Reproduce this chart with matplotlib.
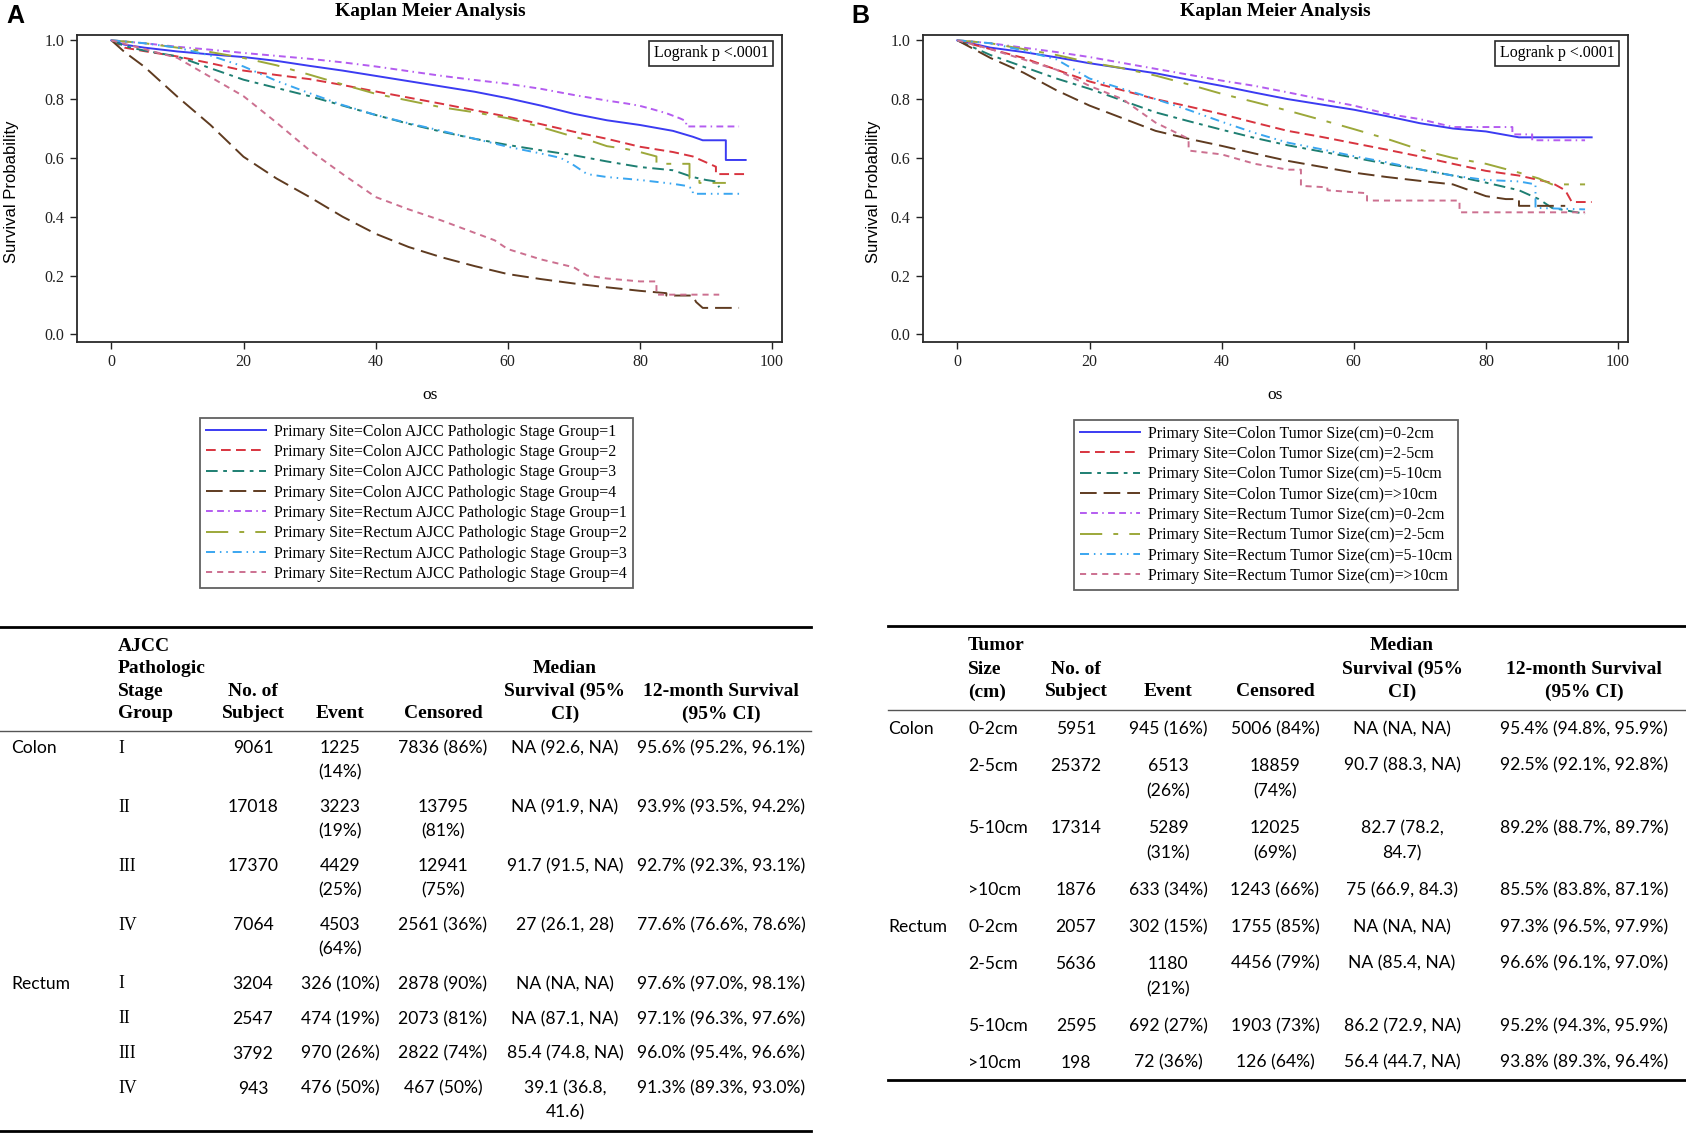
import matplotlib
matplotlib.use("Agg")
import matplotlib.pyplot as plt
from matplotlib.lines import Line2D

plt.rcParams['lines.scale_dashes'] = False

W, H = 1686, 1134
SERIF = 'Liberation Serif'
SANS = 'Liberation Sans'
BODY = 'Lato'

# ---------------- data: panel A (AJCC stage) ----------------
A_labels = ["Primary Site=Colon AJCC Pathologic Stage Group=1",
            "Primary Site=Colon AJCC Pathologic Stage Group=2",
            "Primary Site=Colon AJCC Pathologic Stage Group=3",
            "Primary Site=Colon AJCC Pathologic Stage Group=4",
            "Primary Site=Rectum AJCC Pathologic Stage Group=1",
            "Primary Site=Rectum AJCC Pathologic Stage Group=2",
            "Primary Site=Rectum AJCC Pathologic Stage Group=3",
            "Primary Site=Rectum AJCC Pathologic Stage Group=4"]

A_t_c1 = [0, 2, 5, 10, 15, 20, 25, 30, 35, 40, 45, 50, 55, 60, 65, 70, 75, 80, 85, 88, 89.5, 93, 93, 96]
A_s_c1 = [1.0, 0.985, 0.975, 0.962, 0.952, 0.943, 0.93, 0.913, 0.897, 0.879, 0.861, 0.843, 0.825, 0.803, 0.778, 0.750, 0.728, 0.712, 0.692, 0.672, 0.660, 0.660, 0.593, 0.593]
A_t_c2 = [0, 2, 5, 10, 15, 20, 25, 30, 35, 40, 45, 50, 55, 60, 65, 70, 75, 80, 85, 88, 90, 91.5, 91.5, 96]
A_s_c2 = [1.0, 0.975, 0.963, 0.945, 0.922, 0.897, 0.882, 0.868, 0.848, 0.826, 0.805, 0.784, 0.762, 0.740, 0.715, 0.689, 0.665, 0.638, 0.620, 0.605, 0.585, 0.570, 0.545, 0.545]
A_t_c3 = [0, 2, 5, 10, 15, 20, 25, 30, 35, 40, 45, 50, 55, 60, 65, 70, 75, 80, 85, 88, 90, 91.5, 92]
A_s_c3 = [1.0, 0.98, 0.965, 0.945, 0.905, 0.866, 0.838, 0.81, 0.778, 0.746, 0.716, 0.689, 0.665, 0.644, 0.626, 0.609, 0.588, 0.569, 0.558, 0.535, 0.525, 0.52, 0.50]
A_t_c4 = [0, 2, 5, 10, 15, 20, 25, 30, 35, 40, 45, 50, 55, 60, 65, 70, 75, 80, 84, 84, 88, 88.5, 89.5, 95]
A_s_c4 = [1.0, 0.96, 0.91, 0.808, 0.712, 0.604, 0.53, 0.467, 0.40, 0.342, 0.297, 0.262, 0.232, 0.205, 0.188, 0.173, 0.160, 0.148, 0.14, 0.132, 0.132, 0.11, 0.09, 0.09]
A_t_r1 = [0, 5, 10, 15, 20, 25, 30, 35, 40, 45, 50, 55, 60, 65, 70, 75, 78, 80, 82, 84, 86, 87, 87, 95]
A_s_r1 = [1.0, 0.99, 0.978, 0.968, 0.957, 0.947, 0.937, 0.925, 0.911, 0.895, 0.879, 0.865, 0.852, 0.835, 0.814, 0.795, 0.785, 0.777, 0.765, 0.752, 0.735, 0.725, 0.707, 0.707]
A_t_r2 = [0, 5, 10, 15, 20, 25, 30, 35, 40, 45, 50, 55, 60, 65, 70, 73, 75, 78, 80, 82.5, 82.5, 87.5, 87.5, 89, 89, 93]
A_s_r2 = [1.0, 0.99, 0.975, 0.96, 0.94, 0.915, 0.883, 0.85, 0.818, 0.795, 0.772, 0.755, 0.735, 0.705, 0.672, 0.655, 0.64, 0.63, 0.62, 0.605, 0.58, 0.58, 0.53, 0.53, 0.515, 0.515]
A_t_r3 = [0, 5, 10, 15, 20, 25, 30, 35, 40, 45, 50, 55, 60, 65, 68, 70, 72, 75, 80, 85, 87, 88, 88, 95]
A_s_r3 = [1.0, 0.99, 0.975, 0.948, 0.911, 0.862, 0.82, 0.78, 0.746, 0.718, 0.692, 0.665, 0.638, 0.615, 0.60, 0.575, 0.545, 0.535, 0.525, 0.512, 0.505, 0.495, 0.478, 0.478]
A_t_r4 = [0, 5, 10, 15, 20, 25, 30, 35, 40, 45, 50, 55, 58, 60, 65, 70, 72, 75, 80, 82.5, 82.5, 92]
A_s_r4 = [1.0, 0.97, 0.94, 0.875, 0.81, 0.72, 0.626, 0.545, 0.467, 0.425, 0.387, 0.345, 0.32, 0.29, 0.255, 0.228, 0.20, 0.19, 0.18, 0.18, 0.135, 0.135]

# ---------------- data: panel B (tumor size) ----------------
B_labels = ["Primary Site=Colon Tumor Size(cm)=0-2cm",
            "Primary Site=Colon Tumor Size(cm)=2-5cm",
            "Primary Site=Colon Tumor Size(cm)=5-10cm",
            "Primary Site=Colon Tumor Size(cm)=>10cm",
            "Primary Site=Rectum Tumor Size(cm)=0-2cm",
            "Primary Site=Rectum Tumor Size(cm)=2-5cm",
            "Primary Site=Rectum Tumor Size(cm)=5-10cm",
            "Primary Site=Rectum Tumor Size(cm)=>10cm"]

B_t_c1 = [0, 5, 10, 15, 20, 25, 30, 35, 40, 45, 50, 55, 60, 65, 70, 75, 80, 85, 96]
B_s_c1 = [1.0, 0.975, 0.96, 0.942, 0.922, 0.905, 0.888, 0.866, 0.845, 0.822, 0.80, 0.782, 0.764, 0.742, 0.718, 0.700, 0.690, 0.670, 0.670]
B_t_c2 = [0, 5, 10, 15, 20, 25, 30, 35, 40, 45, 50, 55, 60, 65, 70, 75, 80, 85, 90, 92, 93, 96]
B_s_c2 = [1.0, 0.97, 0.94, 0.90, 0.86, 0.83, 0.80, 0.775, 0.749, 0.72, 0.692, 0.672, 0.65, 0.628, 0.605, 0.58, 0.556, 0.54, 0.515, 0.49, 0.45, 0.45]
B_t_c3 = [0, 5, 10, 15, 20, 25, 30, 35, 40, 45, 50, 55, 60, 65, 70, 75, 80, 85, 88, 90, 95]
B_s_c3 = [1.0, 0.95, 0.91, 0.87, 0.835, 0.795, 0.755, 0.725, 0.696, 0.668, 0.643, 0.622, 0.601, 0.58, 0.561, 0.54, 0.516, 0.49, 0.46, 0.43, 0.41]
B_t_c4 = [0, 5, 10, 15, 20, 25, 30, 35, 40, 45, 50, 55, 60, 65, 70, 75, 80, 83, 85, 85, 92]
B_s_c4 = [1.0, 0.94, 0.89, 0.83, 0.778, 0.735, 0.692, 0.665, 0.641, 0.615, 0.59, 0.57, 0.55, 0.535, 0.522, 0.51, 0.47, 0.46, 0.46, 0.437, 0.437]
B_t_r1 = [0, 5, 10, 15, 20, 25, 30, 35, 40, 45, 50, 55, 60, 65, 70, 75, 83, 84, 84, 87, 87, 95]
B_s_r1 = [1.0, 0.99, 0.975, 0.96, 0.943, 0.923, 0.903, 0.883, 0.863, 0.845, 0.823, 0.80, 0.778, 0.75, 0.732, 0.705, 0.705, 0.705, 0.68, 0.68, 0.66, 0.66]
B_t_r2 = [0, 5, 10, 15, 20, 25, 30, 35, 40, 45, 50, 55, 60, 65, 70, 75, 80, 85, 88, 90, 95]
B_s_r2 = [1.0, 0.99, 0.97, 0.95, 0.925, 0.905, 0.88, 0.85, 0.818, 0.79, 0.761, 0.73, 0.698, 0.665, 0.628, 0.60, 0.58, 0.55, 0.53, 0.51, 0.51]
B_t_r3 = [0, 5, 10, 15, 20, 25, 30, 35, 40, 45, 50, 55, 60, 65, 70, 75, 80, 85, 87.5, 87.5, 95]
B_s_r3 = [1.0, 0.99, 0.965, 0.935, 0.87, 0.835, 0.80, 0.763, 0.723, 0.685, 0.652, 0.63, 0.606, 0.585, 0.561, 0.54, 0.525, 0.52, 0.51, 0.43, 0.425]
B_t_r4 = [0, 5, 10, 15, 20, 25, 30, 35, 35, 40, 45, 50, 52, 52, 56, 56, 62, 62, 76, 76, 95]
B_s_r4 = [1.0, 0.97, 0.935, 0.90, 0.845, 0.80, 0.72, 0.665, 0.625, 0.612, 0.58, 0.56, 0.56, 0.505, 0.50, 0.49, 0.48, 0.455, 0.455, 0.415, 0.415]

# ---------------- data: tables ----------------
tA_header = ["", "AJCC\nPathologic\nStage\nGroup", "No. of\nSubject", "Event", "Censored",
             "Median\nSurvival (95%\nCI)", "12-month Survival\n(95% CI)"]
tA_site = ["Colon", "", "", "", "Rectum", "", "", ""]
tA_stage = ["I", "II", "III", "IV", "I", "II", "III", "IV"]
tA_n = ["9061", "17018", "17370", "7064", "3204", "2547", "3792", "943"]
tA_event = ["1225\n(14%)", "3223\n(19%)", "4429\n(25%)", "4503\n(64%)",
            "326 (10%)", "474 (19%)", "970 (26%)", "476 (50%)"]
tA_cens = ["7836 (86%)", "13795\n(81%)", "12941\n(75%)", "2561 (36%)",
           "2878 (90%)", "2073 (81%)", "2822 (74%)", "467 (50%)"]
tA_median = ["NA (92.6, NA)", "NA (91.9, NA)", "91.7 (91.5, NA)", "27 (26.1, 28)",
             "NA (NA, NA)", "NA (87.1, NA)", "85.4 (74.8, NA)", "39.1 (36.8,\n41.6)"]
tA_12m = ["95.6% (95.2%, 96.1%)", "93.9% (93.5%, 94.2%)", "92.7% (92.3%, 93.1%)",
          "77.6% (76.6%, 78.6%)", "97.6% (97.0%, 98.1%)", "97.1% (96.3%, 97.6%)",
          "96.0% (95.4%, 96.6%)", "91.3% (89.3%, 93.0%)"]

tB_header = ["", "Tumor\nSize\n(cm)", "No. of\nSubject", "Event", "Censored",
             "Median\nSurvival (95%\nCI)", "12-month Survival\n(95% CI)"]
tB_site = ["Colon", "", "", "", "Rectum", "", "", ""]
tB_size = ["0-2cm", "2-5cm", "5-10cm", ">10cm", "0-2cm", "2-5cm", "5-10cm", ">10cm"]
tB_n = ["5951", "25372", "17314", "1876", "2057", "5636", "2595", "198"]
tB_event = ["945 (16%)", "6513\n(26%)", "5289\n(31%)", "633 (34%)",
            "302 (15%)", "1180\n(21%)", "692 (27%)", "72 (36%)"]
tB_cens = ["5006 (84%)", "18859\n(74%)", "12025\n(69%)", "1243 (66%)",
           "1755 (85%)", "4456 (79%)", "1903 (73%)", "126 (64%)"]
tB_median = ["NA (NA, NA)", "90.7 (88.3, NA)", "82.7 (78.2,\n84.7)", "75 (66.9, 84.3)",
             "NA (NA, NA)", "NA (85.4, NA)", "86.2 (72.9, NA)", "56.4 (44.7, NA)"]
tB_12m = ["95.4% (94.8%, 95.9%)", "92.5% (92.1%, 92.8%)", "89.2% (88.7%, 89.7%)",
          "85.5% (83.8%, 87.1%)", "97.3% (96.5%, 97.9%)", "96.6% (96.1%, 97.0%)",
          "95.2% (94.3%, 95.9%)", "93.8% (89.3%, 96.4%)"]

# ---------------- styles ----------------
colors = ['#3b3bf2', '#d8343f', '#1e7f72', '#5f3b20', '#b45cf0', '#9ca83a', '#3aa6f0', '#cc7090']
dashes = [None, (7, 3.8), (8.4, 4, 2.7, 4), (12, 5), (4.9, 3.1, 4.9, 3.1, 1.1, 3.1),
          (16, 8, 3.5, 8), (6.5, 3.5, 1.1, 3.5, 1.1, 3.5), (4.4, 3.6)]

A_curves = [(A_t_c1, A_s_c1), (A_t_c2, A_s_c2), (A_t_c3, A_s_c3), (A_t_c4, A_s_c4),
            (A_t_r1, A_s_r1), (A_t_r2, A_s_r2), (A_t_r3, A_s_r3), (A_t_r4, A_s_r4)]
B_curves = [(B_t_c1, B_s_c1), (B_t_c2, B_s_c2), (B_t_c3, B_s_c3), (B_t_c4, B_s_c4),
            (B_t_r1, B_s_r1), (B_t_r2, B_s_r2), (B_t_r3, B_s_r3), (B_t_r4, B_s_r4)]

fig = plt.figure(figsize=(W / 100, H / 100), dpi=100)


def fx(x):
    return x / W


def fy(y):
    return 1 - y / H


def km_panel(left, curves, labels, letter, letter_x, title_x, ylab_x, leg_x, leg_y):
    ax = fig.add_axes([fx(left), fy(342), 705 / W, 307 / H])
    handles = []
    for (t, s), c, d, lab in zip(curves, colors, dashes, labels):
        ln, = ax.plot(t, s, color=c, lw=1.4, label=lab)
        if d is not None:
            ln.set_dashes(d)
        handles.append(ln)
    ax.set_xlim(-5.2, 101.5)
    ax.set_ylim(-0.026, 1.018)
    ax.set_xticks([0, 20, 40, 60, 80, 100])
    ax.set_yticks([0.0, 0.2, 0.4, 0.6, 0.8, 1.0])
    ax.set_yticklabels(["0.0", "0.2", "0.4", "0.6", "0.8", "1.0"])
    ax.tick_params(direction='out', length=5, width=1, labelsize=11.5, pad=4, colors='#222222')
    for lb in ax.get_xticklabels() + ax.get_yticklabels():
        lb.set_fontfamily(SERIF)
    for sp in ax.spines.values():
        sp.set_linewidth(1.3)
        sp.set_color('#2a2a2a')
    ax.text(0.981, 0.966, "Logrank p <.0001", transform=ax.transAxes, ha='right', va='top',
            fontsize=11.5, family=SERIF,
            bbox=dict(boxstyle='square,pad=0.3', fc='white', ec='#2a2a2a', lw=1.2))
    fig.text(fx(title_x), fy(12), "Kaplan Meier Analysis", ha='center', va='center',
             fontsize=14, fontweight='bold', family=SERIF)
    fig.text(fx(letter_x), fy(16), letter, ha='center', va='center', fontsize=18,
             fontweight='bold', family=SANS)
    fig.text(fx(ylab_x), fy(192), "Survival Probability", rotation=90, ha='center', va='center',
             fontsize=12, family=SANS)
    fig.text(fx(title_x), fy(395), "os", ha='center', va='center', fontsize=12.5, family=SERIF)
    leg = fig.legend(handles=handles, loc='upper left', bbox_to_anchor=(fx(leg_x), fy(leg_y)),
                     prop={'family': SERIF, 'size': 11.4}, frameon=True, fancybox=False,
                     borderaxespad=0, borderpad=0.35, handlelength=3.8, handletextpad=0.55,
                     labelspacing=0.275)
    leg.get_frame().set_edgecolor('#3a3a3a')
    leg.get_frame().set_linewidth(1.3)
    return ax


km_panel(77, A_curves, A_labels, "A", 15, 430, 12, 200, 418)
km_panel(923, B_curves, B_labels, "B", 860, 1275, 873, 1074, 420)


def hrule(x0, x1, y, lw, color='black'):
    fig.add_artist(Line2D([fx(x0), fx(x1)], [fy(y), fy(y)], transform=fig.transFigure,
                          color=color, lw=lw))


def draw_table(cols, header, col_x, col_ha, col_font, head_bottom, head_pitch,
               row0, base, extra, x0, x1, rules):
    # header (bold serif, bottom-aligned)
    for h, x, ha in zip(header, col_x, col_ha):
        if not h:
            continue
        lines = h.split("\n")
        k = len(lines)
        for i, ln in enumerate(lines):
            fig.text(fx(x), fy(head_bottom - (k - 1 - i) * head_pitch), ln, ha=ha, va='center',
                     fontsize=14, fontweight='bold', family=SERIF)
    y = row0
    nrows = len(cols[0])
    for r in range(nrows):
        nl = max(len(c[r].split("\n")) for c in cols)
        for c, x, ha, fam in zip(cols, col_x, col_ha, col_font):
            for i, ln in enumerate(c[r].split("\n")):
                if ln:
                    fig.text(fx(x), fy(y + i * extra), ln, ha=ha, va='center',
                             fontsize=12.8 if fam == SERIF else 12.6, family=fam)
        y += base + (nl - 1) * extra
    top, mid, bot = rules
    hrule(x0, x1, top, 2.0)
    hrule(x0, x1, mid, 1.0, '#555555')
    hrule(x0, x1, bot, 2.0)


colsA = [tA_site, tA_stage, tA_n, tA_event, tA_cens, tA_median, tA_12m]
draw_table(colsA, tA_header,
           [11, 118, 253, 340, 443, 565, 721],
           ['left', 'left', 'center', 'center', 'center', 'center', 'center'],
           [BODY, SERIF, BODY, BODY, BODY, BODY, BODY],
           714, 22.6, 748.4, 34.9, 24.0, 0, 811, (627, 731, 1131))

colsB = [tB_site, tB_size, tB_n, tB_event, tB_cens, tB_median, tB_12m]
draw_table(colsB, tB_header,
           [888, 968, 1076, 1168, 1275, 1402, 1584],
           ['left', 'left', 'center', 'center', 'center', 'center', 'center'],
           [BODY, BODY, BODY, BODY, BODY, BODY, BODY],
           692, 23.0, 729, 36.6, 25.8, 888, 1686, (626, 710, 1080))

fig.savefig("out.png", dpi=100)
